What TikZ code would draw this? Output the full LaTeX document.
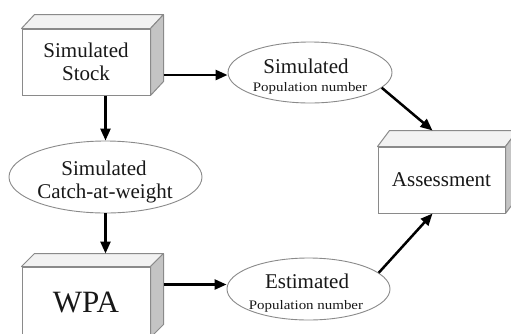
\documentclass[tikz,border=0pt]{standalone}
\usepackage{fontspec}
\usepackage{graphicx}
\setmainfont{Liberation Serif}
\usetikzlibrary{arrows.meta,calc,shapes.geometric}
\definecolor{edgegray}{HTML}{8A8A8A}
\definecolor{topgray}{HTML}{F2F2F2}
\definecolor{sidegray}{HTML}{C4C4C4}
\definecolor{txt}{HTML}{181818}
\newcommand\mycuboid[3]{%
  \draw[topface] (#1.north west) -- ++(#2,-#3) -- ($(#1.north east)+(#2,-#3)$) -- (#1.north east) -- cycle;
  \draw[sideface] (#1.north east) -- ++(#2,-#3) -- ($(#1.south east)+(#2,-#3)$) -- (#1.south east) -- cycle;}
\begin{document}
\begin{tikzpicture}[x=1pt,y=-1pt,
  boxfront/.style={draw=edgegray, fill=white, line width=1pt, minimum width=128pt, minimum height=66pt, inner sep=0pt, align=center, text=txt, font=\fontsize{21}{23}\selectfont},
  oval/.style={ellipse, draw=edgegray, fill=white, line width=0.9pt, inner sep=0pt},
  bigtxt/.style={anchor=base, inner sep=0pt, text=txt, font=\fontsize{21}{23}\selectfont},
  smalltxt/.style={anchor=base, inner sep=0pt, text=txt, font=\fontsize{13}{15}\selectfont},
  arr/.style={-{Triangle[length=12pt,width=10pt]}, line width=2.5pt, black},
  topface/.style={draw=edgegray, fill=topgray, line width=1pt, line join=round},
  sideface/.style={draw=edgegray, fill=sidegray, line width=1pt, line join=round}]
\clip (0,0) rectangle (511,333);
\useasboundingbox (0,0) rectangle (511,333);

% boxes
\node[boxfront] (stock) at (86,62) {Simulated\\Stock};
\mycuboid{stock}{13}{14}
\node[boxfront, minimum height=70pt] (wpa) at (86,302) {};
\node[anchor=base, inner sep=0pt, text=txt, font=\fontsize{31}{36}\selectfont] (wpatxt) at (86,312) {WPA};
\mycuboid{wpa}{13}{13}
\node[boxfront, minimum width=127pt] (assess) at (441.5,180) {Assessment};
\mycuboid{assess}{12}{16}

% ellipses
\node[oval, minimum width=164pt, minimum height=61pt] (pop) at (310,72.5) {};
\node[bigtxt] (poptxt1) at (306,73) {Simulated};
\node[smalltxt] (poptxt2) at (310,91) {\scalebox{1.15}[1]{Population number}};

\node[oval, minimum width=193pt, minimum height=72pt] (catch) at (105.5,177) {};
\node[bigtxt] (catchtxt1) at (104,175) {Simulated};
\node[bigtxt] (catchtxt2) at (105,198) {Catch-at-weight};

\node[oval, minimum width=163pt, minimum height=62pt] (est) at (308.5,289) {};
\node[bigtxt] (esttxt1) at (307,288) {Estimated};
\node[smalltxt] (esttxt2) at (306,309) {\scalebox{1.15}[1]{Population number}};

% connector end points
\path (stock.east) ++(13,13) coordinate (s1);
\path (wpa.north) ++(0,-13) coordinate (wtop);
\path (wpa.north east) ++(13,18) coordinate (w1);
\path (assess.north west) ++(55,-16) coordinate (atop);
\path (assess.south west) ++(55,0) coordinate (abot);

% connectors
\draw[arr] (s1) -- (s1 -| pop.west);
\draw[arr] (catch.north |- stock.south) -- (catch.north);
\draw[arr] (catch.south) -- (catch.south |- wtop);
\draw[arr] (w1) -- (w1 -| est.west);
\draw[arr] (pop.-12) -- (atop);
\draw[arr] (est.13) -- (abot);
\end{tikzpicture}
\end{document}
